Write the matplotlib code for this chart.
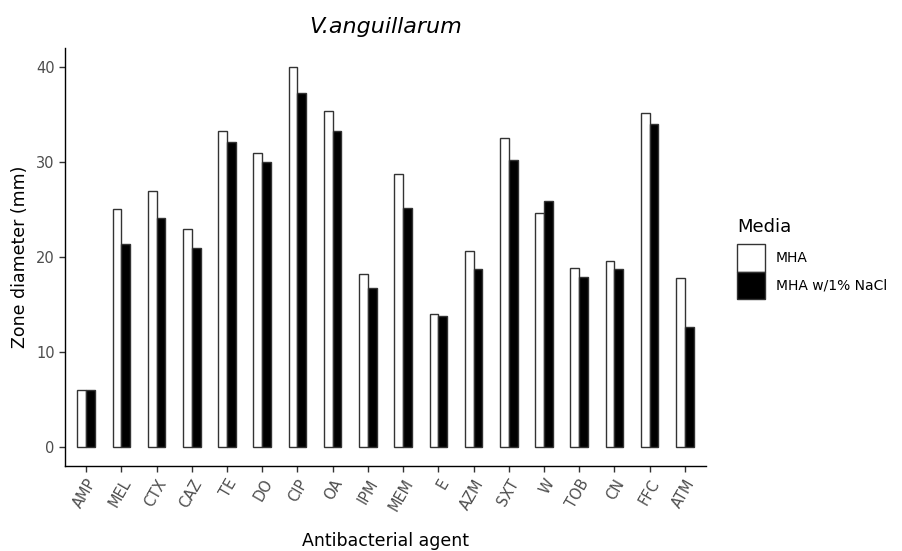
import numpy as np
import matplotlib.pyplot as plt
import matplotlib.transforms as mtransforms
from matplotlib.patches import Patch

plt.rcParams['font.family'] = ['DejaVu Sans']

agents = ['AMP', 'MEL', 'CTX', 'CAZ', 'TE', 'DO', 'CIP', 'OA', 'IPM', 'MEM',
          'E', 'AZM', 'SXT', 'W', 'TOB', 'CN', 'FFC', 'ATM']
mha = [6.0, 25.1, 27.0, 22.9, 33.3, 30.9, 40.0, 35.4, 18.2, 28.7,
       14.0, 20.6, 32.5, 24.6, 18.8, 19.6, 35.2, 17.8]
mha_nacl = [6.0, 21.4, 24.1, 21.0, 32.1, 30.0, 37.3, 33.3, 16.7, 25.2,
            13.8, 18.7, 30.2, 25.9, 17.9, 18.7, 34.0, 12.6]
media = ['MHA', 'MHA w/1% NaCl']

GREY = '#4D4D4D'
EDGE = '#333333'

fig = plt.figure(figsize=(9.02, 5.51), dpi=100)
ax = fig.add_axes([65 / 902, (551 - 466) / 551, (706 - 65) / 902, (466 - 48) / 551])

x = np.arange(len(agents))
w = 0.25
ax.bar(x - w / 2, mha, w, color='white', edgecolor=EDGE, linewidth=1)
ax.bar(x + w / 2, mha_nacl, w, color='black', edgecolor=EDGE, linewidth=1)

ax.set_xlim(-0.6, len(agents) - 0.4)
ax.set_ylim(-2, 42)
ax.set_yticks([0, 10, 20, 30, 40])
ax.set_xticks(x)
ax.set_xticklabels(agents, rotation=60, ha='right', va='top', rotation_mode='anchor')
shift = mtransforms.ScaledTranslation(4 / 100, 0, fig.dpi_scale_trans)
for lab in ax.get_xticklabels():
    lab.set_transform(lab.get_transform() + shift)

for s in ['top', 'right']:
    ax.spines[s].set_visible(False)
for s in ['left', 'bottom']:
    ax.spines[s].set_linewidth(1)
    ax.spines[s].set_color('black')
ax.tick_params(colors=EDGE, labelcolor=GREY, labelsize=10.5, length=4, width=1)

ax.set_xlabel('Antibacterial agent', fontsize=12.5, labelpad=13)
ax.set_ylabel('Zone diameter (mm)', fontsize=12.5, labelpad=5)
ax.set_title('V.anguillarum', fontsize=16, style='italic', pad=11)

handles = [Patch(facecolor='white', edgecolor=EDGE, linewidth=1),
           Patch(facecolor='black', edgecolor=EDGE, linewidth=1)]
leg = ax.legend(handles, media, title='Media', loc='upper left',
                bbox_to_anchor=(1.048, 0.593), frameon=False, fontsize=10,
                title_fontsize=13, handlelength=2.0, handleheight=2.67,
                labelspacing=0.0, handletextpad=0.8, borderpad=0,
                borderaxespad=0)
leg._legend_box.align = 'left'
leg._legend_box.sep = 6

fig.savefig('out.png', dpi=100)
